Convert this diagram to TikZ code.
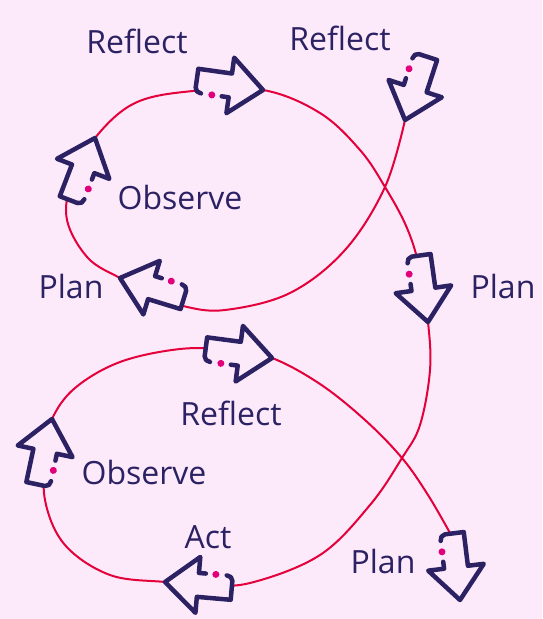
\documentclass[tikz,border=0pt]{standalone}
\usepackage{fontspec}
\setmainfont{Open Sans}
\definecolor{bgpink}{RGB}{252,234,250}
\definecolor{navy}{RGB}{43,33,99}
\definecolor{dotmag}{RGB}{226,0,122}
\definecolor{loopred}{RGB}{228,0,58}
\tikzset{
  arrowline/.style={draw=navy, line width=4.5pt, line join=round, line cap=round},
  loopline/.style={draw=loopred, line width=2pt},
  lbl/.style={text=navy, font=\fontsize{32}{36}\selectfont, anchor=base, inner sep=0pt},
  blockarrow/.pic={
    \path[fill=bgpink] (0,0) -- (-33,-28) -- (-33,-12) -- (-67,-12) -- (-67,12) -- (-33,12) -- (-33,28) -- cycle;
    \draw[arrowline] (-40,12) -- (-33,12) -- (-33,28) -- (0,0) -- (-33,-28) -- (-33,-12) -- (-67,-12) -- (-67,7) to[out=-90,in=180] (-61,12);
    \fill[dotmag] (-50,12) circle (3.5pt);
  }
}
\begin{document}
\begin{tikzpicture}[x=1pt,y=-1pt]
\path[fill=bgpink] (0,0) rectangle (542,619);
\useasboundingbox (0,0) rectangle (542,619);
% loop curve
\draw[loopline] plot[smooth, tension=0.6] coordinates {
 (405,120) (385,187) (345,250) (290,293) (225,310) (183,306) (150,293) (120,278)
 (88,258) (67,220) (72,180) (95,138) (135,103) (193,91) (263,90) (320,113)
 (360,150) (385,187) (407,228) (420,270) (428,322) (430,370) (420,425) (402,458)
 (370,505) (320,555) (250,583) (200,585) (165,582) (110,575) (65,545) (45,500)
 (46,450) (52,419) (75,388) (120,362) (180,349) (230,350) (272,358) (320,384)
 (365,420) (402,458) (428,495) (450,533)};
% arrows
\pic[rotate=-8] at (263,90) {blockarrow};
\pic[rotate=-108] at (405,120) {blockarrow};
\pic[rotate=69] at (95,138) {blockarrow};
\pic[rotate=163] at (120,278) {blockarrow};
\pic[rotate=-82] at (428,322) {blockarrow};
\pic[rotate=-7.5] at (272,358) {blockarrow};
\pic[rotate=-83] at (460,600) {blockarrow};
\pic[rotate=175] at (165,582) {blockarrow};
\pic[rotate=78] at (52,419) {blockarrow};
% labels
\node[lbl] (t1) at (137,53) {Reflect};
\node[lbl] (t2) at (340,50) {Reflect};
\node[lbl] (t3) at (180,209) {Observe};
\node[lbl] (t4) at (71,298) {Plan};
\node[lbl] (t5) at (503,298) {Plan};
\node[lbl] (t6) at (231,425) {Reflect};
\node[lbl] (t7) at (144,484) {Observe};
\node[lbl] (t8) at (208,548) {Act};
\node[lbl] (t9) at (383,573) {Plan};
\end{tikzpicture}
\end{document}
